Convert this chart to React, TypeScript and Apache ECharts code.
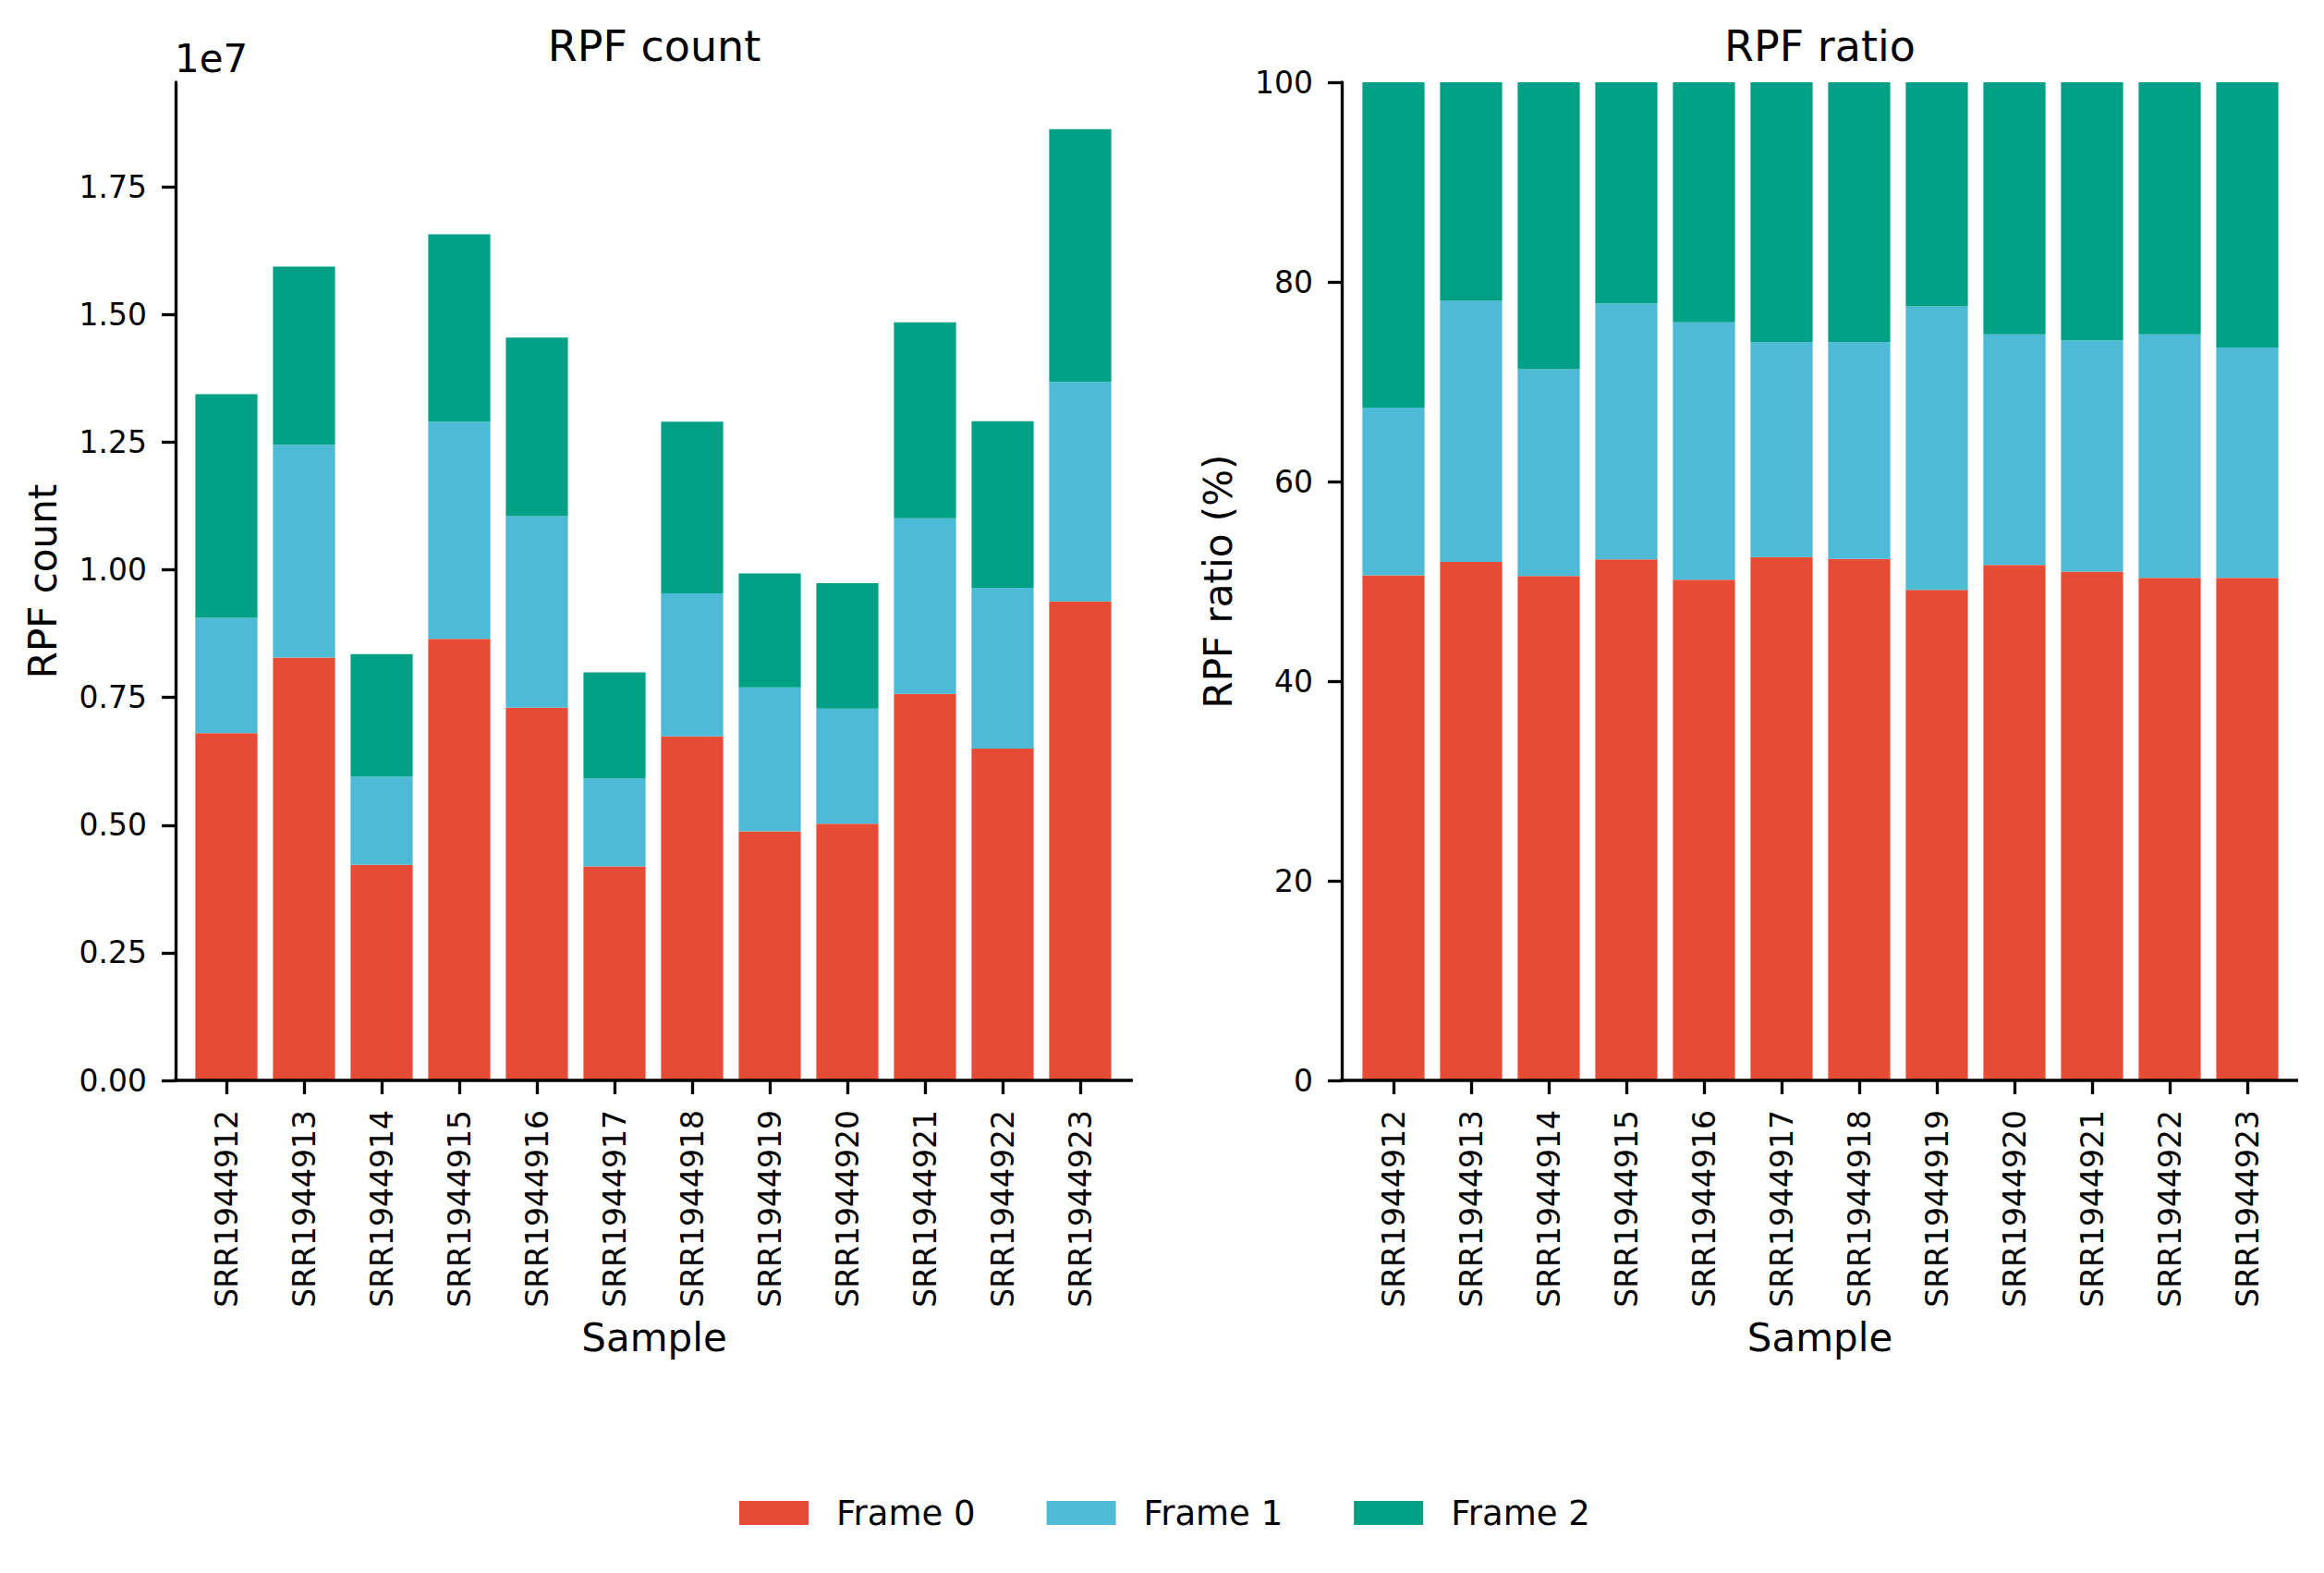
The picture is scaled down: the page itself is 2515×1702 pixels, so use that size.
import React, { useEffect, useRef } from 'react';
import * as echarts from 'echarts';

const samples = [
  'SRR1944912', 'SRR1944913', 'SRR1944914', 'SRR1944915', 'SRR1944916', 'SRR1944917',
  'SRR1944918', 'SRR1944919', 'SRR1944920', 'SRR1944921', 'SRR1944922', 'SRR1944923',
];
const frame0 = [6800000, 8280000, 4220000, 8650000, 7300000, 4190000, 6740000, 4880000, 5030000, 7570000, 6500000, 9380000];
const frame1 = [2260000, 4170000, 1730000, 4250000, 3750000, 1720000, 2800000, 2820000, 2250000, 3440000, 3150000, 4300000];
const frame2 = [4380000, 3490000, 2400000, 3670000, 3500000, 2080000, 3360000, 2230000, 2460000, 3840000, 3260000, 4950000];
const frameNames = ['Frame 0', 'Frame 1', 'Frame 2'];
const frameColors = ['#E64B35', '#4DBBD5', '#00A087'];
const countTicks = [0, 2500000, 5000000, 7500000, 10000000, 12500000, 15000000, 17500000];
const countMax = 19550000;
const ratioMax = 100;
const ratioInterval = 20;

export default function App() {
  const ref = useRef<HTMLDivElement>(null);

  useEffect(() => {
    const chart = echarts.init(ref.current as HTMLDivElement, null, { renderer: 'svg' });
    const F = 'DejaVu Sans';
    const lw = 3.33;
    const black = '#000';

    const counts = [frame0, frame1, frame2];
    const totals = samples.map((_, i) => frame0[i] + frame1[i] + frame2[i]);
    const ratios = counts.map((arr) => arr.map((v, i) => (v / totals[i]) * 100));

    const gridTop = 89;
    const gridH = 1080;
    const axisY = gridTop + gridH;

    const xAxis = (gridIndex: number) => ({
      type: 'category',
      gridIndex,
      data: samples,
      axisLine: { show: false },
      axisTick: { show: true, alignWithLabel: true, length: 15, lineStyle: { color: black, width: lw } },
      axisLabel: { rotate: 90, margin: 32, fontSize: 33, fontFamily: F, color: black, interval: 0 },
      splitLine: { show: false },
    });

    const tickStyle = { show: true, length: 15, lineStyle: { color: black, width: lw } };

    const option: any = {
      animation: false,
      backgroundColor: '#fff',
      textStyle: { fontFamily: F },
      grid: [
        { left: 203, top: gridTop, width: 1008, height: gridH },
        { left: 1466, top: gridTop, width: 1008, height: gridH },
      ],
      xAxis: [xAxis(0), xAxis(1)],
      yAxis: [
        {
          type: 'value',
          gridIndex: 0,
          min: 0,
          max: countMax,
          offset: 13,
          axisLine: { show: true, lineStyle: { color: black, width: lw } },
          axisTick: { ...tickStyle, customValues: countTicks },
          axisLabel: {
            customValues: countTicks,
            formatter: (v: number) => (v / 1e7).toFixed(2),
            fontSize: 33,
            margin: 31,
            color: black,
            fontFamily: F,
          },
          splitLine: { show: false },
        },
        {
          type: 'value',
          gridIndex: 1,
          min: 0,
          max: ratioMax,
          interval: ratioInterval,
          offset: 14,
          axisLine: { show: true, lineStyle: { color: black, width: lw } },
          axisTick: tickStyle,
          axisLabel: { fontSize: 33, margin: 31, color: black, fontFamily: F },
          splitLine: { show: false },
        },
      ],
      legend: {
        data: frameNames,
        left: 800,
        top: 1617,
        padding: 0,
        itemWidth: 75,
        itemHeight: 26,
        itemGap: 77,
        icon: 'rect',
        selectedMode: false,
        textStyle: { fontSize: 37, fontFamily: F, color: black, lineHeight: 40, padding: [0, 0, 0, 25] },
      },
      series: [
        ...counts.map((arr, k) => ({
          type: 'bar',
          name: frameNames[k],
          xAxisIndex: 0,
          yAxisIndex: 0,
          stack: 'count',
          data: arr,
          barCategoryGap: '20%',
          itemStyle: { color: frameColors[k] },
          emphasis: { disabled: true },
        })),
        ...ratios.map((arr, k) => ({
          type: 'bar',
          name: frameNames[k],
          xAxisIndex: 1,
          yAxisIndex: 1,
          stack: 'ratio',
          data: arr,
          barCategoryGap: '20%',
          itemStyle: { color: frameColors[k] },
          emphasis: { disabled: true },
        })),
      ],
      graphic: [
        { type: 'line', z: 100, shape: { x1: 188.3, y1: axisY, x2: 1226, y2: axisY }, style: { stroke: black, lineWidth: lw } },
        { type: 'line', z: 100, shape: { x1: 1450.3, y1: axisY, x2: 2487, y2: axisY }, style: { stroke: black, lineWidth: lw } },
        { type: 'text', x: 708, y: 49.5, style: { text: 'RPF count', fontSize: 46, fontFamily: F, fill: black, align: 'center', verticalAlign: 'middle' } },
        { type: 'text', x: 1969.5, y: 49.5, style: { text: 'RPF ratio', fontSize: 46, fontFamily: F, fill: black, align: 'center', verticalAlign: 'middle' } },
        { type: 'text', x: 189, y: 63.5, style: { text: '1e7', fontSize: 42, fontFamily: F, fill: black, align: 'left', verticalAlign: 'middle' } },
        { type: 'text', x: 46, y: 629, rotation: Math.PI / 2, style: { text: 'RPF count', fontSize: 42, fontFamily: F, fill: black, align: 'center', verticalAlign: 'middle' } },
        { type: 'text', x: 1318, y: 629, rotation: Math.PI / 2, style: { text: 'RPF ratio (%)', fontSize: 42, fontFamily: F, fill: black, align: 'center', verticalAlign: 'middle' } },
        { type: 'text', x: 708, y: 1447, style: { text: 'Sample', fontSize: 42, fontFamily: F, fill: black, align: 'center', verticalAlign: 'middle' } },
        { type: 'text', x: 1969.5, y: 1447, style: { text: 'Sample', fontSize: 42, fontFamily: F, fill: black, align: 'center', verticalAlign: 'middle' } },
      ],
    };

    chart.setOption(option);
    return () => chart.dispose();
  }, []);

  return (
    <div
      ref={ref}
      style={{ position: 'fixed', left: 0, top: 0, width: 2515, height: 1702, background: '#fff' }}
    />
  );
}
